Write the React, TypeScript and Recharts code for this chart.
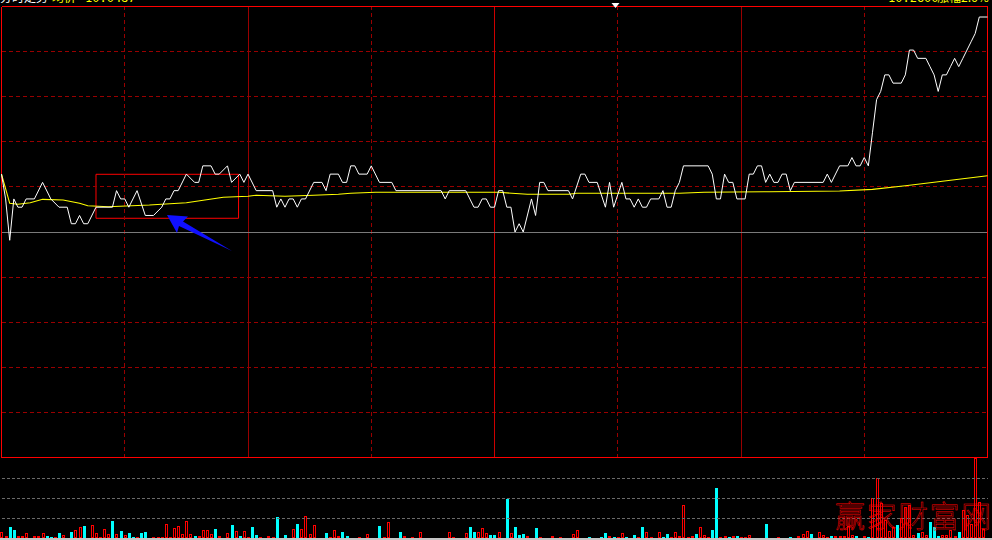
import React from "react";
import { LineChart, Line, BarChart, Bar, XAxis, YAxis, ReferenceLine, ReferenceArea } from "recharts";

const PREV_CLOSE = 10.0;
const HALF_RANGE = 0.2727;

// turning points of the white price line: [minute from 9:30, price]
const priceTurns: [number, number][] = [
  [0, 10.07], [1, 10.04], [2, 9.99], [3, 10.04], [4, 10.03], [5, 10.03], [6, 10.04], [8, 10.04], [10, 10.06], [12, 10.04],
  [14, 10.03], [16, 10.03], [17, 10.01], [18, 10.01], [19, 10.02], [20, 10.01], [21, 10.01], [23, 10.03], [27, 10.03], [28, 10.05],
  [29, 10.04], [30, 10.04], [31, 10.03], [33, 10.05], [35, 10.02], [37, 10.02], [39, 10.03], [40, 10.04], [41, 10.04], [42, 10.05],
  [43, 10.05], [45, 10.07], [47, 10.06], [48, 10.06], [49, 10.08], [51, 10.08], [52, 10.07], [53, 10.07], [55, 10.08], [56, 10.06],
  [58, 10.07], [59, 10.06], [60, 10.07], [62, 10.05], [66, 10.05], [67, 10.03], [68, 10.04], [69, 10.03], [70, 10.04], [71, 10.04],
  [72, 10.03], [73, 10.04], [74, 10.04], [76, 10.06], [78, 10.06], [79, 10.05], [80, 10.07], [82, 10.07], [83, 10.06], [84, 10.06],
  [85, 10.08], [86, 10.08], [87, 10.07], [89, 10.07], [90, 10.08], [92, 10.06], [95, 10.06], [96, 10.05], [107, 10.05], [108, 10.04],
  [109, 10.05], [113, 10.05], [115, 10.03], [116, 10.03], [117, 10.04], [118, 10.04], [119, 10.03], [120, 10.03], [121, 10.05], [122, 10.05],
  [123, 10.03], [124, 10.03], [125, 10.0], [126, 10.01], [127, 10.0], [129, 10.04], [130, 10.02], [131, 10.06], [132, 10.06], [133, 10.05],
  [138, 10.05], [139, 10.04], [141, 10.07], [142, 10.07], [143, 10.06], [145, 10.06], [147, 10.03], [148, 10.06], [149, 10.03], [151, 10.06],
  [152, 10.04], [153, 10.04], [154, 10.03], [155, 10.04], [156, 10.03], [157, 10.03], [158, 10.04], [160, 10.04], [161, 10.05], [162, 10.03],
  [163, 10.03], [164, 10.05], [165, 10.06], [166, 10.08], [172, 10.08], [173, 10.07], [174, 10.04], [175, 10.04], [176, 10.07], [177, 10.06],
  [178, 10.06], [179, 10.04], [181, 10.04], [182, 10.07], [183, 10.07], [184, 10.08], [185, 10.08], [186, 10.06], [187, 10.07], [188, 10.06],
  [189, 10.06], [190, 10.07], [191, 10.07], [192, 10.05], [193, 10.06], [200, 10.06], [201, 10.07], [202, 10.06], [204, 10.08], [206, 10.08],
  [207, 10.09], [208, 10.08], [209, 10.08], [210, 10.09], [211, 10.08], [212, 10.12], [213, 10.16], [214, 10.17], [215, 10.19], [216, 10.19],
  [217, 10.18], [219, 10.18], [220, 10.19], [221, 10.22], [222, 10.22], [223, 10.21], [225, 10.21], [226, 10.2], [227, 10.19], [228, 10.17],
  [229, 10.19], [230, 10.19], [231, 10.2], [232, 10.21], [233, 10.2], [234, 10.21], [235, 10.22], [236, 10.23], [237, 10.24], [238, 10.26],
  [240, 10.26],
];

// turning points of the yellow average price line
const avgTurns: [number, number][] = [
  [0, 10.07], [2, 10.0347], [4, 10.0335], [7, 10.0354], [10, 10.0395], [15, 10.0387], [19, 10.0347], [21, 10.0318], [26, 10.0306], [36, 10.0326],
  [45, 10.0354], [54, 10.042], [60, 10.0432], [62, 10.0444], [69, 10.0432], [76, 10.0444], [82, 10.0456], [85, 10.0468], [91, 10.048], [121, 10.048],
  [128, 10.0456], [138, 10.0456], [140, 10.0468], [165, 10.0468], [171, 10.048], [187, 10.0487], [204, 10.0496], [212, 10.0516], [220, 10.056], [228, 10.0608],
  [240, 10.0681],
];

// volume per minute, 241 minutes
const volume = [
  6, 2, 11, 8, 2, 2, 5, 0, 2, 2, 5, 2, 1, 1, 5, 3, 0, 6, 8, 11,
  12, 0, 13, 5, 1, 9, 4, 17, 4, 7, 3, 5, 1, 1, 5, 6, 0, 1, 1, 1,
  14, 1, 10, 12, 4, 17, 4, 2, 2, 8, 8, 4, 9, 2, 0, 5, 13, 7, 2, 7,
  1, 11, 3, 1, 0, 2, 1, 21, 0, 3, 0, 9, 14, 9, 22, 4, 13, 0, 0, 5,
  1, 8, 2, 6, 2, 0, 0, 1, 0, 4, 0, 0, 12, 1, 16, 0, 0, 6, 2, 0,
  1, 0, 6, 0, 0, 0, 0, 0, 0, 6, 1, 0, 0, 5, 11, 6, 6, 10, 5, 3,
  3, 6, 0, 39, 5, 11, 3, 4, 2, 0, 10, 1, 0, 0, 2, 0, 1, 0, 0, 4,
  8, 0, 0, 1, 0, 0, 1, 5, 2, 1, 1, 5, 1, 0, 3, 1, 11, 6, 1, 0,
  6, 1, 4, 1, 6, 2, 33, 1, 2, 4, 11, 3, 1, 8, 50, 1, 2, 1, 2, 2,
  1, 1, 3, 0, 0, 0, 14, 0, 0, 1, 0, 0, 1, 0, 2, 4, 7, 4, 0, 6,
  3, 1, 2, 2, 2, 2, 12, 3, 2, 0, 2, 1, 40, 60, 35, 18, 7, 11, 13, 20,
  31, 33, 3, 5, 6, 3, 16, 11, 2, 3, 3, 8, 2, 6, 28, 23, 14, 80, 36, 9,
  0,
];

// r = up minute (hollow red), c = down minute (cyan)
const volSide = (
  "rrccrrrrrr" + "rccrcrrcrr" + "crrrrrrcrc" + "rccrccrrrr" + "rrrrrrrcrr" + "rrcrrrcrcr" +
  "rccrrrrcrc" + "rrcrrrrrrc" + "rrrccrrrrr" + "rrcrrrrcrr" + "rrrrrrrrrr" + "rrrrccrrrc" +
  "crrcrcccrr" + "crrrrrrrrr" + "rrrcrrccrc" + "rrcrcrcrrr" + "rccrrrrrrc" + "rrrccrrcrc" +
  "rrrrrrcrrr" + "rrcrrrrcrr" + "rrcrrrrrcr" + "rcrrrrrrcr" + "rrrcrrcccr" + "rrrcrrrrrrr"
).split("");

const lineRows = (() => {
  const m = new Map<number, { t: number; price?: number; avg?: number }>();
  priceTurns.forEach(([t, v]) => m.set(t, { ...(m.get(t) ?? { t }), price: v }));
  avgTurns.forEach(([t, v]) => m.set(t, { ...(m.get(t) ?? { t }), avg: v }));
  return [...m.values()].sort((a, b) => a.t - b.t);
})();

const volRows = volume.map((v, i) => ({ t: i, vol: v, up: volSide[i] === "r" }));

const gridSteps = [-4, -3, -2, -1, 1, 2, 3, 4];
const dashedCols = [30, 90, 150, 210];

function VolBar(props: any) {
  const { x, y, height, index } = props;
  if (!height || height <= 0) return <g />;
  const up = props.payload?.up ?? volSide[index] === "r";
  const left = Math.round(x);
  const top = Math.round(y);
  const h = Math.max(Math.round(y + height) - top, 1);
  if (!up) return <rect x={left} y={top} width={3} height={h} fill="#00ffff" />;
  if (h <= 2) return <rect x={left} y={top} width={3} height={h} fill="#ff0000" />;
  return <rect x={left + 0.5} y={top + 0.5} width={2} height={h - 1} fill="none" stroke="#ff0000" strokeWidth={1} />;
}

export default function App() {
  const lo = PREV_CLOSE - HALF_RANGE;
  const hi = PREV_CLOSE + HALF_RANGE;
  const grid = { stroke: "#990000", strokeDasharray: "4 3", shapeRendering: "crispEdges" as const };
  const frame = { stroke: "#ff0000", shapeRendering: "crispEdges" as const };
  return (
    <div style={{ position: "absolute", left: 0, top: 0, width: 992, height: 540, background: "#000", overflow: "hidden" }}>
      <div style={{ position: "absolute", left: 0, top: 0 }}>
        <LineChart width={992} height={460} data={lineRows} margin={{ top: 6.5, right: 4.5, bottom: 2.5, left: 1.5 }}>
          <XAxis dataKey="t" type="number" domain={[0, 240]} hide />
          <YAxis type="number" domain={[lo, hi]} allowDataOverflow hide />
          {gridSteps.map((n) => <ReferenceLine key={`h${n}`} y={PREV_CLOSE + (n * HALF_RANGE) / 5} {...grid} />)}
          {dashedCols.map((t) => <ReferenceLine key={`v${t}`} x={t} {...grid} />)}
          <ReferenceLine x={60} stroke="#990000" shapeRendering="crispEdges" />
          <ReferenceLine x={180} stroke="#990000" shapeRendering="crispEdges" />
          <ReferenceLine x={120} stroke="#cc0000" shapeRendering="crispEdges" />
          <ReferenceLine y={PREV_CLOSE} stroke="#7a7a7a" shapeRendering="crispEdges" />
          <ReferenceLine y={hi} {...frame} />
          <ReferenceLine y={lo} {...frame} />
          <ReferenceLine x={0} {...frame} />
          <ReferenceLine x={240} {...frame} />
          <Line dataKey="avg" stroke="#ffff00" strokeWidth={1.1} dot={false} connectNulls isAnimationActive={false} />
          <Line dataKey="price" stroke="#ffffff" strokeWidth={1} dot={false} connectNulls isAnimationActive={false} />
          <ReferenceArea x1={23} x2={57.7} y1={10.0166} y2={10.0698} stroke="#ff0000" strokeWidth={1} fill="none" fillOpacity={0} />
        </LineChart>
      </div>
      <div style={{ position: "absolute", left: 0, top: 456 }}>
        <BarChart width={992} height={84} data={volRows} margin={{ top: 2, right: 4.5, bottom: 2, left: 1.5 }}>
          <XAxis dataKey="t" type="number" domain={[0, 240]} hide />
          <YAxis type="number" domain={[0, 80]} allowDataOverflow hide />
          {[20, 40, 60].map((v) => (
            <ReferenceLine key={v} y={v} stroke="#6a6a6a" strokeDasharray="3 2" shapeRendering="crispEdges" />
          ))}
          <Bar dataKey="vol" barSize={3} shape={VolBar} isAnimationActive={false} />
        </BarChart>
      </div>
      <div style={{ position: "absolute", left: 0, top: 538, width: 992, height: 2, background: "#c4c4c4" }} />
      <svg width={992} height={540} style={{ position: "absolute", left: 0, top: 0, pointerEvents: "none" }}>
        <text x={0} y={2} fontSize={12} fill="#ffffff" fontFamily="'Noto Sans CJK SC'">分时走势</text>
        <text x={52} y={2} fontSize={12} fill="#ffff00" fontFamily="'Noto Sans CJK SC'">均价</text>
        <text x={85} y={2} fontSize={12} fill="#ffff00" fontFamily="'DejaVu Sans Mono'">10.0487</text>
        <text x={888} y={2} fontSize={12} fill="#ffff00" fontFamily="'DejaVu Sans Mono'">10.2600</text>
        <text x={937} y={2} fontSize={12} fill="#ffff00" fontFamily="'Noto Sans CJK SC'">涨幅2.6%</text>
        <polygon points="611.5,3 619.5,3 615.5,8" fill="#ffffff" />
        <polygon points="167,215 188,216.5 183,221.5 232,251 179,226 177,233" fill="#1010ff" />
        <text x={835} y={527} fontSize={30} letterSpacing={1.5} fill="none" stroke="#ff0000" strokeWidth={0.5} fontFamily="'Noto Sans CJK SC'" fontWeight={300}>赢家财富网</text>
      </svg>
    </div>
  );
}
